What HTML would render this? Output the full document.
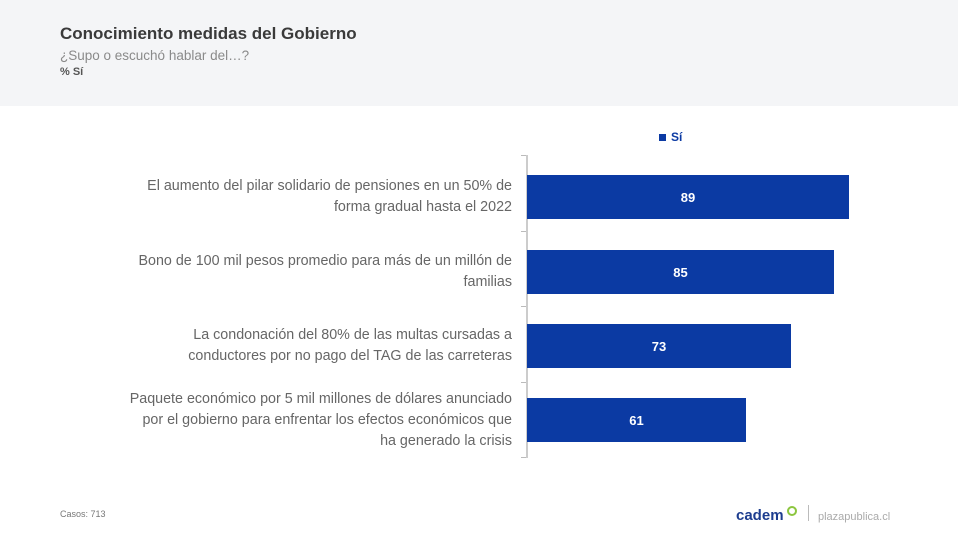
<!DOCTYPE html>
<html><head><meta charset="utf-8"><style>
body{margin:0;width:958px;height:537px;background:#fff;position:relative;font-family:"Liberation Sans",sans-serif;overflow:hidden}
.hdr{position:absolute;left:0;top:0;width:958px;height:106px;background:#f4f5f7}
.t{position:absolute;left:60px;top:24px;font-size:17px;font-weight:bold;color:#3a3a3a}
.s{position:absolute;left:60px;top:48px;font-size:13.5px;color:#8a8a8a}
.p{position:absolute;left:60px;top:66px;font-size:11px;font-weight:bold;color:#555}
.bar{position:absolute;left:527px;height:44px;background:#0b3aa3;color:#fff;font-weight:bold;font-size:13px;display:flex;align-items:center;justify-content:center}
.lab{position:absolute;right:446px;width:460px;text-align:right;font-size:14.3px;color:#666;line-height:21px}
.ax{position:absolute;left:526px;top:155px;width:2px;height:303px;background:#ccc}
.tk{position:absolute;left:521px;width:5px;height:1px;background:#bbb}
</style></head><body>
<div class="hdr"></div>
<div class="t">Conocimiento medidas del Gobierno</div>
<div class="s">¿Supo o escuchó hablar del…?</div>
<div class="p">% Sí</div>
<div style="position:absolute;left:659px;top:134px;width:7px;height:7px;background:#0b3aa3"></div>
<div style="position:absolute;left:671px;top:130px;font-size:12px;font-weight:bold;color:#0b3aa3">Sí</div>
<div class="ax"></div>
<div class="tk" style="top:155px"></div><div class="tk" style="top:231px"></div><div class="tk" style="top:306px"></div><div class="tk" style="top:382px"></div><div class="tk" style="top:457px"></div>
<div class="bar" style="top:175px;width:322px">89</div>
<div class="bar" style="top:250px;width:307px">85</div>
<div class="bar" style="top:324px;width:264px">73</div>
<div class="bar" style="top:398px;width:219px">61</div>
<div class="lab" style="top:176px">El aumento del pilar solidario de pensiones en un 50% de<br>forma gradual hasta el 2022</div>
<div class="lab" style="top:251px">Bono de 100 mil pesos promedio para más de un millón de<br>familias</div>
<div class="lab" style="top:325px">La condonación del 80% de las multas cursadas a<br>conductores por no pago del TAG de las carreteras</div>
<div class="lab" style="top:389px">Paquete económico por 5 mil millones de dólares anunciado<br>por el gobierno para enfrentar los efectos económicos que<br>ha generado la crisis</div>
<div style="position:absolute;left:60px;top:509px;font-size:9px;color:#777">Casos: 713</div>
<div style="position:absolute;left:736px;top:507px;font-size:15px;font-weight:bold;color:#1d3d8f">cadem</div>
<div style="position:absolute;left:787px;top:506px;width:6px;height:6px;border:2px solid #8cc63f;border-radius:50%"></div>
<div style="position:absolute;left:808px;top:505px;width:1px;height:16px;background:#bbb"></div>
<div style="position:absolute;left:818px;top:511px;font-size:11px;color:#aaa">plazapublica.cl</div>
</body></html>
